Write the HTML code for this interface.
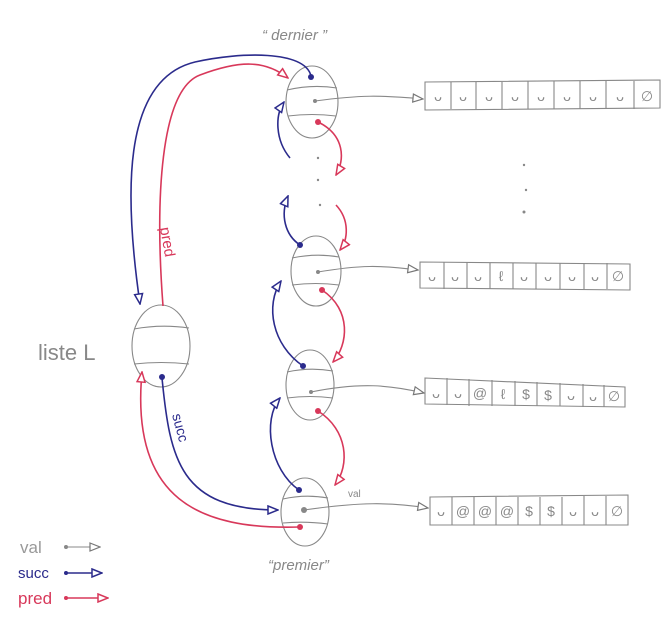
<!DOCTYPE html>
<html><head><meta charset="utf-8"><style>
html,body{margin:0;padding:0;background:#fff;}
svg{display:block;}
text{font-family:"Liberation Sans",sans-serif;}
</style></head><body>
<svg width="672" height="624" viewBox="0 0 672 624" xmlns="http://www.w3.org/2000/svg">
<defs>
<marker id="ag" markerWidth="12" markerHeight="10" refX="11" refY="5" orient="auto" markerUnits="userSpaceOnUse"><path d="M1,1 L11,5 L1,9 Z" fill="#fff" stroke="#777" stroke-width="1.2"/></marker>
<marker id="ab" markerWidth="12" markerHeight="10" refX="11" refY="5" orient="auto" markerUnits="userSpaceOnUse"><path d="M1,1 L11,5 L1,9 Z" fill="#fff" stroke="#2b2b8c" stroke-width="1.5"/></marker>
<marker id="ar" markerWidth="12" markerHeight="10" refX="11" refY="5" orient="auto" markerUnits="userSpaceOnUse"><path d="M1,1 L11,5 L1,9 Z" fill="#fff" stroke="#d8385a" stroke-width="1.5"/></marker>
</defs>
<g fill="none" stroke="#888" stroke-width="1.1">
<ellipse cx="312" cy="102" rx="26" ry="36"/><path d="M287,90 Q312,84 337,88 M288,116 Q312,113 336,116"/>
<ellipse cx="316" cy="271" rx="25" ry="35"/><path d="M292,258 Q316,253 339,257 M292,285 Q316,282 339,285"/>
<ellipse cx="310" cy="385" rx="24" ry="35"/><path d="M287,372 Q310,367 333,371 M287,398 Q310,395 333,398"/>
<ellipse cx="305" cy="512" rx="24" ry="34"/><path d="M283,499 Q305,494 328,498 M283,523 Q305,521 328,524"/>
<ellipse cx="161" cy="346" rx="29" ry="41"/><path d="M134,329 Q161,324 189,328 M134,364 Q161,361 189,364"/>
<path d="M425,82 L660,80 L660,108 L425,110 Z"/>
<path d="M451,82V109 M476,82V109 M502,82V109 M528,81V109 M554,81V109 M580,81V109 M606,81V109 M634,81V109"/>
<path d="M420,262 L630,264 L630,290 L420,288 Z"/>
<path d="M444,262V289 M467,262V289 M490,263V289 M513,263V289 M536,263V289 M560,263V289 M584,263V289 M607,263V289"/>
<path d="M425,378 L625,387 L625,407 L425,404 Z"/>
<path d="M447,378V405 M469,379V406 M492,380V406 M515,381V406 M537,382V406 M560,383V406 M583,384V407 M604,385V407"/>
<path d="M430,497 L628,495 L628,525 L430,525 Z"/>
<path d="M452,497V525 M474,497V525 M496,497V525 M518,497V525 M540,497V525 M562,497V525 M584,496V525 M606,496V525"/>
<path d="M315,101 C360,95 380,95 423,99" marker-end="url(#ag)"/>
<path d="M318,272 C360,265 380,265 418,270" marker-end="url(#ag)"/>
<path d="M311,392 C360,382 390,385 424,393" marker-end="url(#ag)"/>
<path d="M304,510 C360,502 390,502 428,508" marker-end="url(#ag)"/>
<path d="M66,547 H100" marker-end="url(#ag)"/>
</g>
<g fill="#888"><circle cx="315" cy="101" r="2"/><circle cx="318" cy="272" r="2"/><circle cx="311" cy="392" r="2"/><circle cx="304" cy="510" r="3"/><circle cx="66" cy="547" r="2"/>
<circle cx="318" cy="158" r="1.2"/><circle cx="318" cy="180" r="1.2"/><circle cx="320" cy="205" r="1.2"/><circle cx="524" cy="165" r="1.2"/><circle cx="526" cy="190" r="1.2"/><circle cx="524" cy="212" r="1.5"/></g>
<g font-size="14" fill="#888" text-anchor="middle">
<text x="438" y="101">ᴗ</text><text x="463" y="101">ᴗ</text><text x="489" y="101">ᴗ</text><text x="515" y="101">ᴗ</text><text x="541" y="101">ᴗ</text><text x="567" y="101">ᴗ</text><text x="593" y="101">ᴗ</text><text x="620" y="101">ᴗ</text><text x="647" y="101">∅</text>
<text x="432" y="281">ᴗ</text><text x="455" y="281">ᴗ</text><text x="478" y="281">ᴗ</text><text x="501" y="281">ℓ</text><text x="524" y="281">ᴗ</text><text x="548" y="281">ᴗ</text><text x="572" y="281">ᴗ</text><text x="595" y="281">ᴗ</text><text x="618" y="281">∅</text>
<text x="436" y="398">ᴗ</text><text x="458" y="398">ᴗ</text><text x="480" y="398">@</text><text x="503" y="399">ℓ</text><text x="526" y="399">$</text><text x="548" y="400">$</text><text x="571" y="400">ᴗ</text><text x="593" y="401">ᴗ</text><text x="614" y="401">∅</text>
<text x="441" y="516">ᴗ</text><text x="463" y="516">@</text><text x="485" y="516">@</text><text x="507" y="516">@</text><text x="529" y="516">$</text><text x="551" y="516">$</text><text x="573" y="516">ᴗ</text><text x="595" y="516">ᴗ</text><text x="617" y="516">∅</text>
</g>
<g fill="none" stroke="#2b2b8c" stroke-width="1.6">
<path d="M311,76 C305,50 240,52 195,62 C120,80 125,200 140,304" marker-end="url(#ab)"/>
<path d="M162,378 C170,460 180,510 278,510" marker-end="url(#ab)"/>
<path d="M299,490 C270,470 262,420 280,398" marker-end="url(#ab)"/>
<path d="M303,366 C272,345 265,305 281,281" marker-end="url(#ab)"/>
<path d="M300,245 C285,235 280,215 288,196" marker-end="url(#ab)"/>
<path d="M290,158 C275,140 275,115 284,102" marker-end="url(#ab)"/>
<path d="M66,573 H102" marker-end="url(#ab)"/>
</g>
<g fill="#2b2b8c"><circle cx="311" cy="77" r="3"/><circle cx="162" cy="377" r="3"/><circle cx="299" cy="490" r="3"/><circle cx="303" cy="366" r="3"/><circle cx="300" cy="245" r="3"/><circle cx="66" cy="573" r="2"/></g>
<g fill="none" stroke="#d8385a" stroke-width="1.6">
<path d="M163,306 C155,200 160,90 200,75 C240,60 265,60 288,78" marker-end="url(#ar)"/>
<path d="M300,527 C200,530 130,500 142,372" marker-end="url(#ar)"/>
<path d="M318,122 C345,135 345,160 336,175" marker-end="url(#ar)"/>
<path d="M336,205 C350,220 348,240 340,250" marker-end="url(#ar)"/>
<path d="M322,290 C352,310 348,345 333,362" marker-end="url(#ar)"/>
<path d="M318,411 C348,430 350,465 335,485" marker-end="url(#ar)"/>
<path d="M66,598 H108" marker-end="url(#ar)"/>
</g>
<g fill="#d8385a"><circle cx="318" cy="122" r="3"/><circle cx="322" cy="290" r="3"/><circle cx="318" cy="411" r="3"/><circle cx="300" cy="527" r="3"/><circle cx="66" cy="598" r="2"/></g>
<text x="38" y="360" font-size="22" fill="#888">liste L</text>
<text x="262" y="40" font-size="15" fill="#888" font-style="italic">“ dernier ”</text>
<text x="268" y="570" font-size="15" fill="#888" font-style="italic">“premier”</text>
<text x="348" y="497" font-size="10" fill="#888">val</text>
<text x="160" y="228" font-size="15" fill="#d8385a" transform="rotate(80 160 228)">pred</text>
<text x="172" y="415" font-size="14" fill="#2b2b8c" transform="rotate(75 172 415)">succ</text>
<text x="20" y="553" font-size="17" fill="#999">val</text>
<text x="18" y="578" font-size="15" fill="#2b2b8c">succ</text>
<text x="18" y="604" font-size="17" fill="#d8385a">pred</text>
</svg>
</body></html>
